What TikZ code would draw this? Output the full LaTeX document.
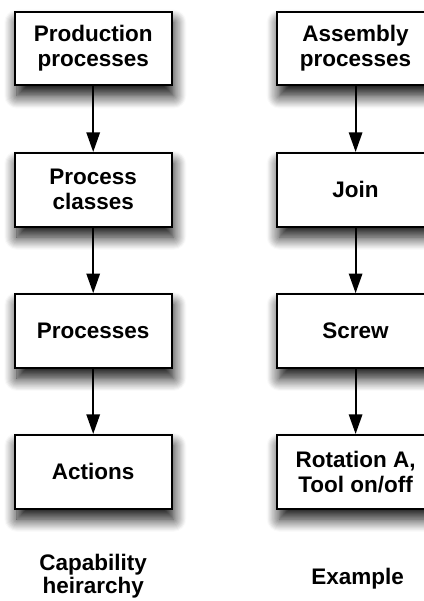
\documentclass[tikz,border=0pt]{standalone}
\usepackage{fontspec}
\setmainfont{Liberation Sans}
\usetikzlibrary{arrows.meta,shadows.blur}

\tikzset{
    level/.style={draw, line width=1.4pt, fill=white, align=center,
        minimum width=3.92cm, minimum height=1.84cm,
        font=\fontsize{16}{17.8}\selectfont\bfseries,
        blur shadow={shadow xshift=1.5pt, shadow yshift=-7.5pt,
            shadow blur radius=9pt, shadow blur steps=12, shadow opacity=95}},
    down/.style={-{Triangle[width=9.5pt,length=14pt]}, line width=1.4pt},
    caption/.style={align=center, font=\fontsize{16}{16.5}\selectfont\bfseries}
}

\begin{document}
\begin{tikzpicture}
    \useasboundingbox (0,0) rectangle (10.6,15.025);
    % capability levels
    \draw (2.33,13.81) node[level] (prod) {Production\\processes};
    \draw (2.33,10.28) node[level] (cls) {Process\\classes};
    \draw (2.33,6.75) node[level] (proc) {Processes};
    \draw (2.33,3.23) node[level] (act) {Actions};
    % example column
    \draw (8.89,13.81) node[level] (asm) {Assembly\\processes};
    \draw (8.89,10.28) node[level] (join) {Join};
    \draw (8.89,6.75) node[level] (screw) {Screw};
    \draw (8.89,3.23) node[level] (rot) {Rotation A,\\Tool on/off};
    \draw [down](prod)--(cls);
    \draw [down](cls)--(proc);
    \draw [down](proc)--(act);
    \draw [down](asm)--(join);
    \draw [down](join)--(screw);
    \draw [down](screw)--(rot);
    \draw (2.33,0.62) node[caption] (capt) {Capability\\heirarchy};
    \draw (8.94,0.55) node[caption] (expl) {Example};
\end{tikzpicture}
\end{document}
